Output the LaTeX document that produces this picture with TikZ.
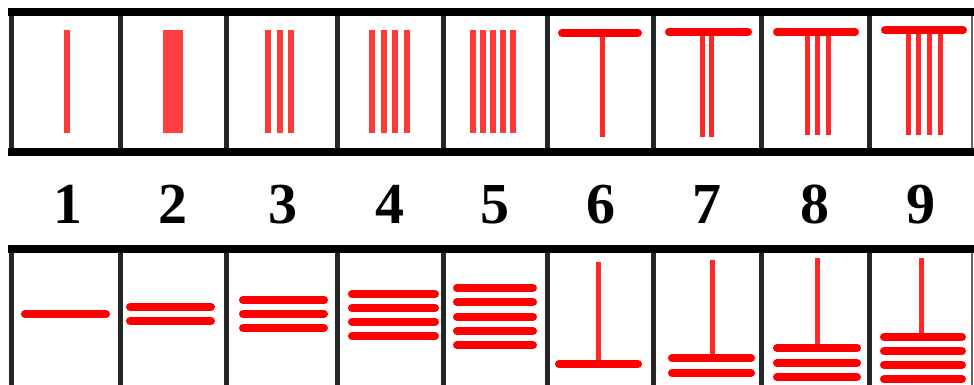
\documentclass[tikz,border=0pt]{standalone}
\usepackage{fontspec}
\setmainfont{Liberation Serif}
\begin{document}
\begin{tikzpicture}[x=1pt,y=-1pt,
  vbar/.style={draw=red!78,line width=6pt},
  vthin/.style={draw=red!85,line width=5pt},
  hbar/.style={draw=red,line width=8pt,line cap=round},
  frameh/.style={draw=black,line width=8pt},
  framev/.style={draw=black!85,line width=5pt},
  numlab/.style={font=\bfseries\fontsize{58}{58}\selectfont,anchor=base,inner sep=0pt}]
\useasboundingbox (0,0) rectangle (974,385);
% ---------- top row contents ----------
\draw[vbar] (67,30) -- (67,133);
\draw[draw=red!75,line width=10pt] (167.5,30) -- (167.5,133);
\draw[draw=red!75,line width=10pt] (178,30) -- (178,133);
\foreach \x in {268,279.5,291} \draw[vbar] (\x,30) -- (\x,133);
\foreach \x in {372,383.5,395,406.5} \draw[vbar] (\x,30) -- (\x,133);
\foreach \x in {473,483,493,503,513} \draw[vbar] (\x,30) -- (\x,133);
% T shapes
\draw[vthin] (602,33) -- (602,137);
\draw[hbar] (562,33) -- (638,33);
\foreach \x in {702.5,711.5} \draw[vthin] (\x,32) -- (\x,137);
\draw[hbar] (669,32) -- (748,32);
\foreach \x in {807.5,817.5,828} \draw[vthin] (\x,32) -- (\x,135);
\draw[hbar] (777,32) -- (855,32);
\foreach \x in {908,918.5,929.5,940} \draw[vthin] (\x,30) -- (\x,135);
\draw[hbar] (885,30) -- (963,30);
% ---------- bottom row contents ----------
\draw[hbar] (25,314) -- (106,314);
\foreach \y in {307,321} \draw[hbar] (130,\y) -- (211,\y);
\foreach \y in {300,314,328} \draw[hbar] (243,\y) -- (324,\y);
\foreach \y in {294,308,322,336} \draw[hbar] (352,\y) -- (435,\y);
\foreach \y in {288,302,316.5,331,345} \draw[hbar] (457,\y) -- (533,\y);
% inverted T shapes
\draw[vthin] (598,262) -- (598,364);
\draw[hbar] (559,364) -- (638,364);
\draw[vthin] (712,260) -- (712,358);
\foreach \y in {358,373} \draw[hbar] (672,\y) -- (751,\y);
\draw[vthin] (817,258) -- (817,348);
\foreach \y in {348,363,377} \draw[hbar] (777,\y) -- (857,\y);
\draw[vthin] (921,258) -- (921,337);
\foreach \y in {337,351,365,379} \draw[hbar] (884,\y) -- (962,\y);
% ---------- frames ----------
\foreach \x in {11,120,226,337,443,547,653,761,869} {
  \draw[framev] (\x,12) -- (\x,152);
  \draw[framev] (\x,249) -- (\x,385);
}
\draw[draw=black!60,line width=2pt] (972,12) -- (972,152);
\draw[draw=black!60,line width=2pt] (972,249) -- (972,385);
\draw[frameh] (8,12) -- (974,12);
\draw[frameh] (8,152) -- (974,152);
\draw[frameh] (8,249) -- (974,249);
% ---------- numbers ----------
\node[numlab] (n1) at (68,223) {1};
\node[numlab] (n2) at (173,223) {2};
\node[numlab] (n3) at (283,223) {3};
\node[numlab] (n4) at (390,223) {4};
\node[numlab] (n5) at (495,223) {5};
\node[numlab] (n6) at (601,223) {6};
\node[numlab] (n7) at (707,223) {7};
\node[numlab] (n8) at (815,223) {8};
\node[numlab] (n9) at (921,223) {9};
\end{tikzpicture}
\end{document}
